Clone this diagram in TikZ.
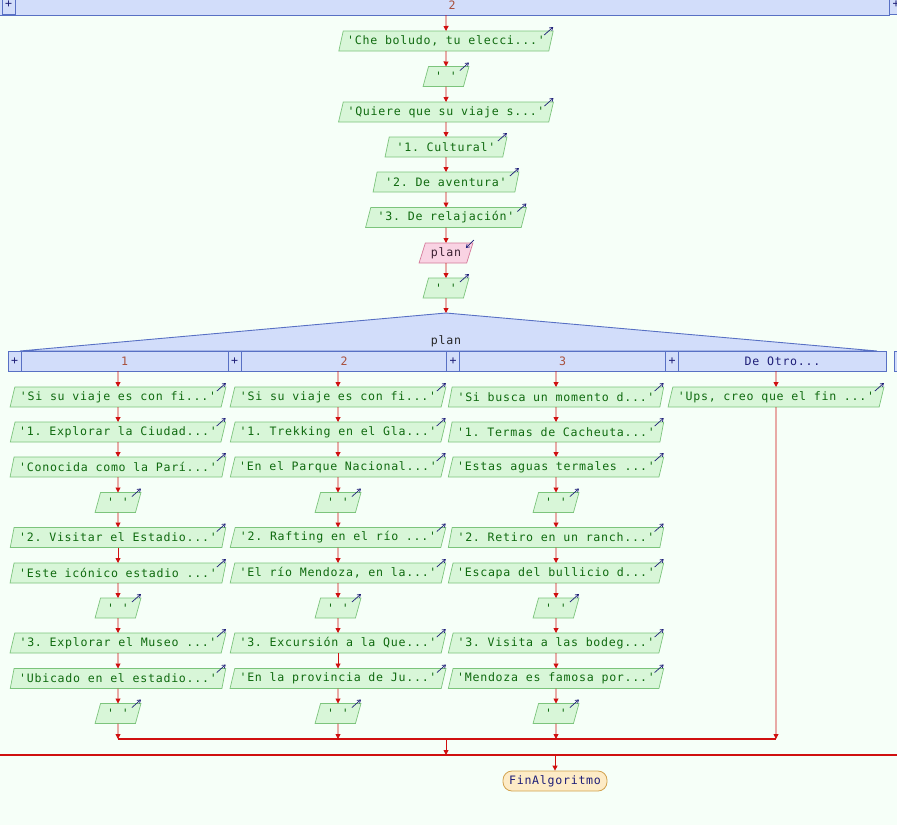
\documentclass[tikz,border=0pt]{standalone}
\usepackage{fontspec}
\setmonofont{DejaVu Sans Mono}[LetterSpace=6.3]
\usetikzlibrary{shapes.geometric,arrows.meta,calc}
\definecolor{bg}{HTML}{F6FFF8}
\definecolor{ioFill}{HTML}{D8F6D8}
\definecolor{ioDraw}{HTML}{7CC47C}
\definecolor{ioText}{HTML}{0F6A0F}
\definecolor{inFill}{HTML}{F9D3E3}
\definecolor{inDraw}{HTML}{D47A9A}
\definecolor{inText}{HTML}{3A2030}
\definecolor{swFill}{HTML}{D2DDFA}
\definecolor{swDraw}{HTML}{5870C4}
\definecolor{flowRed}{HTML}{D01010}
\definecolor{caseNum}{HTML}{A8503C}
\definecolor{darkBlue}{HTML}{1E1E78}
\definecolor{finFill}{HTML}{FDEBC6}
\definecolor{finDraw}{HTML}{D2A24E}
\begin{document}
\begin{tikzpicture}[x=1pt,y=-1pt,
  font=\ttfamily\fontsize{11.6pt}{13pt}\selectfont,
  io/.style={trapezium, trapezium left angle=68, trapezium right angle=112,
    trapezium stretches, minimum height=20pt, inner xsep=0pt, inner ysep=0pt,
    outer sep=0pt, draw=ioDraw, fill=ioFill, text=ioText, line width=0.7pt},
  inp/.style={io, draw=inDraw, fill=inFill, text=inText},
  flow/.style={draw=flowRed, color=flowRed, line width=0.9pt, -{Triangle[length=5pt,width=5pt]}},
  fline/.style={draw=flowRed, color=flowRed, line width=1.1pt},
  oarr/.style={draw=darkBlue, line width=0.7pt, -{Straight Barb[length=3pt,width=4pt]}},
  plusbox/.style={rectangle, draw=swDraw, fill=swFill, line width=0.8pt,
    minimum width=13pt, minimum height=20pt, inner sep=0pt, text=darkBlue},
  bar/.style={draw=swDraw, fill=swFill, line width=1pt},
  lw/.style={minimum width=216pt},
  sw/.style={minimum width=46pt}
]
\clip (0,0) rectangle (897,825);
\fill[bg] (0,0) rectangle (897,825);

% top bar (outer case 2)
\path[bar] (-5,-6) rectangle (889,15);
\node[plusbox] (tp1) at (8.5,4.5) {+};
\node[plusbox] (tp2) at (896,4.5) {+};
\node[text=caseNum] (lbl2) at (452,5) {2};
\coordinate (top) at (446,15);

% main column
\node[io, minimum width=215pt] (n1) at (446,41) {'Che boludo, tu elecci...'};
\node[io, sw] (n2) at (446,76.5) {' '};
\node[io, minimum width=215pt] (n3) at (446,112) {'Quiere que su viaje s...'};
\node[io, minimum width=122pt] (n4) at (446,147) {'1. Cultural'};
\node[io, minimum width=146pt] (n5) at (446,182) {'2. De aventura'};
\node[io, minimum width=161pt] (n6) at (446,217.5) {'3. De relajación'};
\node[inp, minimum width=54pt] (n7) at (446,253) {plan};
\node[io, sw] (n8) at (446,288) {' '};

% switch
\coordinate (apex) at (446,313);
\path[bar, line width=0.9pt] (apex) -- (877,351) -- (20,351) -- cycle;
\node[text=black!85] (swl) at (446,341) {plan};
\path[bar] (8,351) rectangle (886,371);
\path[bar] (894,351) rectangle (920,371);
\node[plusbox] (p1) at (14.5,361) {+};
\node[plusbox] (p2) at (234.5,361) {+};
\node[plusbox] (p3) at (453,361) {+};
\node[plusbox] (p4) at (672,361) {+};
\node[text=caseNum] (l1) at (124.5,361) {1};
\node[text=caseNum] (l2) at (344,361) {2};
\node[text=caseNum] (l3) at (562.5,361) {3};
\node[text=darkBlue] (l4) at (782.5,361) {De Otro...};
\coordinate (h1) at (118,371);
\coordinate (h2) at (338,371);
\coordinate (h3) at (556,371);
\coordinate (h4) at (776,371);

% column 1
\node[io, lw] (c1r1) at (118,397) {'Si su viaje es con fi...'};
\node[io, lw] (c1r2) at (118,432) {'1. Explorar la Ciudad...'};
\node[io, lw] (c1r3) at (118,467) {'Conocida como la Parí...'};
\node[io, sw] (c1r4) at (118,502.5) {' '};
\node[io, lw] (c1r5) at (118,537.5) {'2. Visitar el Estadio...'};
\node[io, lw] (c1r6) at (118,573) {'Este icónico estadio ...'};
\node[io, sw] (c1r7) at (118,608) {' '};
\node[io, lw] (c1r8) at (118,643) {'3. Explorar el Museo ...'};
\node[io, lw] (c1r9) at (118,678.5) {'Ubicado en el estadio...'};
\node[io, sw] (c1r10) at (118,713.5) {' '};
% column 2
\node[io, lw] (c2r1) at (338,397) {'Si su viaje es con fi...'};
\node[io, lw] (c2r2) at (338,432) {'1. Trekking en el Gla...'};
\node[io, lw] (c2r3) at (338,467) {'En el Parque Nacional...'};
\node[io, sw] (c2r4) at (338,502.5) {' '};
\node[io, lw] (c2r5) at (338,537.5) {'2. Rafting en el río ...'};
\node[io, lw] (c2r6) at (338,573) {'El río Mendoza, en la...'};
\node[io, sw] (c2r7) at (338,608) {' '};
\node[io, lw] (c2r8) at (338,643) {'3. Excursión a la Que...'};
\node[io, lw] (c2r9) at (338,678.5) {'En la provincia de Ju...'};
\node[io, sw] (c2r10) at (338,713.5) {' '};
% column 3
\node[io, lw] (c3r1) at (556,397) {'Si busca un momento d...'};
\node[io, lw] (c3r2) at (556,432) {'1. Termas de Cacheuta...'};
\node[io, lw] (c3r3) at (556,467) {'Estas aguas termales ...'};
\node[io, sw] (c3r4) at (556,502.5) {' '};
\node[io, lw] (c3r5) at (556,537.5) {'2. Retiro en un ranch...'};
\node[io, lw] (c3r6) at (556,573) {'Escapa del bullicio d...'};
\node[io, sw] (c3r7) at (556,608) {' '};
\node[io, lw] (c3r8) at (556,643) {'3. Visita a las bodeg...'};
\node[io, lw] (c3r9) at (556,678.5) {'Mendoza es famosa por...'};
\node[io, sw] (c3r10) at (556,713.5) {' '};
% column 4
\node[io, lw] (c4r1) at (776,397) {'Ups, creo que el fin ...'};

% end
\node[rectangle, rounded corners=9pt, draw=finDraw, fill=finFill, text=darkBlue,
  minimum width=104pt, minimum height=20pt, line width=0.8pt, inner sep=0pt]
  (fin) at (555,781) {FinAlgoritmo};

% small output arrows
\foreach \nm in {n1,n2,n3,n4,n5,n6,n8,c4r1}
  \draw[oarr] ($(\nm.top right corner)+(-9,4)$) -- ++(9,-8);
\foreach \ci in {1,2,3}{
  \foreach \ri in {1,...,10}
    \draw[oarr] ($(c\ci r\ri.top right corner)+(-9,4)$) -- ++(9,-8);
}
\draw[oarr] ($(n7.top right corner)+(1,-3)$) -- ++(-8,8);

% flow connectors
\draw[flow] (top) -- (n1.north);
\foreach \a/\b in {n1/n2,n2/n3,n3/n4,n4/n5,n5/n6,n6/n7,n7/n8}
  \draw[flow] (\a.south) -- (\b.north);
\draw[flow] (n8.south) -- (apex);
\foreach \ci in {1,2,3,4}
  \draw[flow] (h\ci) -- (c\ci r1.north);
\foreach \ci in {1,2,3}{
  \foreach \ri [evaluate=\ri as \si using int(\ri+1)] in {1,...,9}
    \draw[flow] (c\ci r\ri.south) -- (c\ci r\si.north);
}
\coordinate (m1) at (118,739);
\coordinate (m2) at (338,739);
\coordinate (m3) at (556,739);
\coordinate (m4) at (776,739);
\coordinate (mo) at (446,739);
\draw[fline] (m1) -- (m4);
\draw[flow] (c1r10.south) -- (m1);
\draw[flow] (c2r10.south) -- (m2);
\draw[flow] (c3r10.south) -- (m3);
\draw[flow] (c4r1.south) -- (m4);
\coordinate (oo) at (446,755);
\coordinate (oleft) at (0,755);
\coordinate (oright) at (897,755);
\coordinate (fo) at (555,755);
\draw[flow] (mo) -- (oo);
\draw[fline] (oleft) -- (oright);
\draw[flow] (fo) -- (fin.north);
\end{tikzpicture}
\end{document}
